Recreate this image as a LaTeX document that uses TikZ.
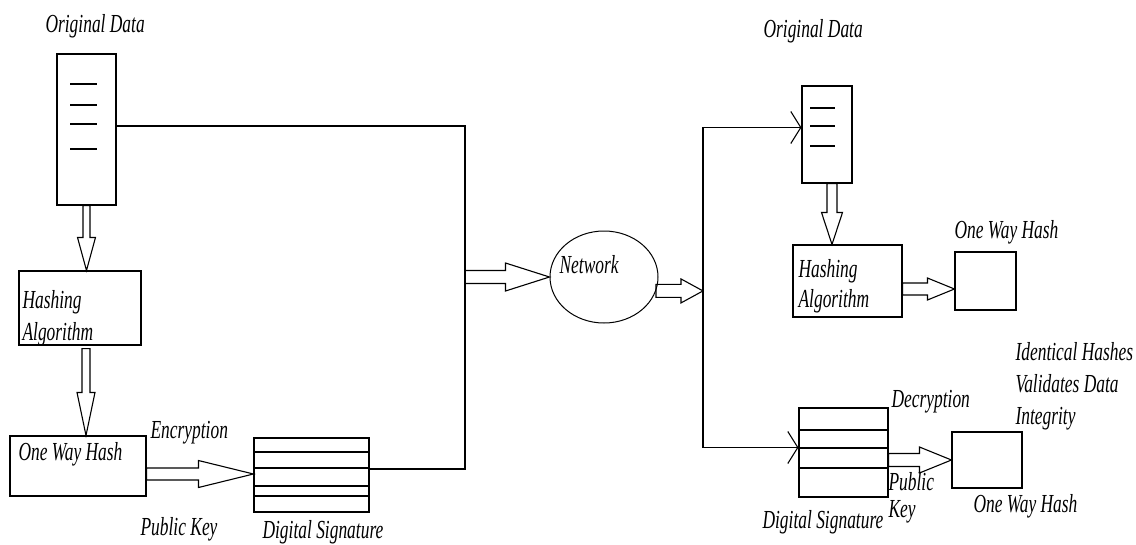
\documentclass[tikz,border=0pt]{standalone}
\usepackage{fontspec}
\setmainfont{Liberation Serif}[FakeStretch=0.67]
\usetikzlibrary{calc, arrows.meta, shapes.geometric}

\tikzset{
  box/.style={draw, line width=1.1pt, inner sep=0pt},
  lbl/.style={font=\fontsize{26}{32}\selectfont\itshape, inner sep=0pt, align=left},
  fat/.style={draw, line width=1.1pt, line join=miter},
  barb/.style={-{Straight Barb[length=10pt, width=32pt]}},
}

% block arrow: from, to, shaft half width, head half width, head length
\newcommand{\fatarrow}[5]{%
  \coordinate (fa-h) at ($(#2)!#5!(#1)$);
  \draw[fat]
    ($(#1)!#3!90:(#2)$) -- ($(fa-h)!#3!90:(#2)$) -- ($(fa-h)!#4!90:(#2)$)
    -- (#2) -- ($(fa-h)!#4!-90:(#2)$) -- ($(fa-h)!#3!-90:(#2)$)
    -- ($(#1)!#3!-90:(#2)$) -- cycle;
}

\begin{document}
\begin{tikzpicture}[x=1pt, y=-1pt, line width=1.1pt]
  \useasboundingbox (0,0) rectangle (1136,544);

  % sender side
  \node[box, minimum width=59pt, minimum height=151pt] (ldata) at (86.5,129.5) {};
  \foreach \y in {84,105,124,149}
    \draw (70,\y) -- (97,\y);
  \node[box, minimum width=122pt, minimum height=74pt] (lhash) at (80,308) {};
  \node[box, minimum width=136pt, minimum height=60pt] (lohash) at (78,466) {};
  \node[box, minimum width=115pt, minimum height=74pt] (lsig) at (311.5,475) {};
  \foreach \y in {452,468,486,496}
    \draw (lsig.west |- 0,\y) -- (lsig.east |- 0,\y);

  \node[lbl, anchor=base west] (ldatatxt) at (45,32) {Original Data};
  \node[lbl, anchor=north west] (lhashtxt) at (22,290) {Hashing\\Algorithm};
  \node[lbl, anchor=base west] (lohashtxt) at (18,460) {One Way Hash};
  \node[lbl, anchor=base west] (enctxt) at (150,438) {Encryption};
  \node[lbl, anchor=base west] (lkeytxt) at (140,535) {Public Key};
  \node[lbl, anchor=base west] (lsigtxt) at (262,538) {Digital Signature};

  % network
  \node[draw, ellipse, line width=1pt, inner sep=0pt,
        minimum width=108pt, minimum height=92pt] (net) at (604,277) {};
  \node[lbl, anchor=base west] (nettxt) at (559,273) {Network};

  \coordinate (lbus) at (465,469);
  \draw ([yshift=3.5pt]ldata.east) -| (lbus) -- ([yshift=6pt]lsig.east);

  % receiver side
  \node[box, minimum width=50pt, minimum height=97pt] (rdata) at (827,134.5) {};
  \foreach \y in {108,126,146}
    \draw (810,\y) -- (835,\y);
  \node[box, minimum width=109pt, minimum height=72pt] (rhash) at (847.5,281) {};
  \node[box, minimum width=61pt, minimum height=58pt] (rohash) at (985.5,281) {};
  \node[box, minimum width=89pt, minimum height=89pt] (rsig) at (843.5,452.5) {};
  \foreach \y in {430,448,468}
    \draw (rsig.west |- 0,\y) -- (rsig.east |- 0,\y);
  \node[box, minimum width=70pt, minimum height=56pt] (rcheck) at (987,460) {};

  \node[lbl, anchor=base west] (rdatatxt) at (763,37) {Original Data};
  \node[lbl, anchor=north west] (rhashtxt) at (798,259) {Hashing\\[-2pt]Algorithm};
  \node[lbl, anchor=base west] (rohashtxt) at (954,238) {One Way Hash};
  \node[lbl, anchor=north west] (resulttxt) at (1015,342)
    {Identical Hashes\\Validates Data\\Integrity};
  \node[lbl, anchor=base west] (dectxt) at (891,407) {Decryption};
  \node[lbl, anchor=north west] (rkeytxt) at (888,472) {Public\\[-5pt]Key};
  \node[lbl, anchor=base west] (rchecktxt) at (973,512) {One Way Hash};
  \node[lbl, anchor=base west] (rsigtxt) at (762,528) {Digital Signature};

  \coordinate (rbus) at (703,290);
  \draw[barb] (rbus) |- ([yshift=7pt]rdata.west);
  \draw[barb] (rbus) |- ([yshift=5pt]rsig.west);

  % block arrows
  \coordinate (a1) at (ldata.south);
  \coordinate (b1) at (ldata.south |- lhash.north);
  \fatarrow{a1}{b1}{3.5pt}{9pt}{33pt}
  \coordinate (a2) at ([xshift=6pt, yshift=-3pt]lhash.south);
  \coordinate (b2) at (a2 |- lohash.north);
  \fatarrow{a2}{b2}{4pt}{9pt}{43pt}
  \coordinate (a3) at ([yshift=-8pt]lohash.east);
  \coordinate (b3) at (a3 -| lsig.west);
  \fatarrow{a3}{b3}{6pt}{13.5pt}{55pt}
  \coordinate (a4) at (lbus |- net.west);
  \fatarrow{a4}{net.west}{6.5pt}{14pt}{44pt}
  \coordinate (a5) at (net.-15);
  \coordinate (b5) at (a5 -| rbus);
  \fatarrow{a5}{b5}{6.5pt}{12pt}{22pt}
  \coordinate (a6) at ([xshift=5pt]rdata.south);
  \coordinate (b6) at (a6 |- rhash.north);
  \fatarrow{a6}{b6}{5pt}{10.5pt}{32pt}
  \coordinate (a7) at ([yshift=-8pt]rhash.east);
  \coordinate (b7) at (a7 -| rohash.west);
  \fatarrow{a7}{b7}{6pt}{11pt}{27pt}
  \coordinate (a8) at (rsig.east |- rcheck.west);
  \fatarrow{a8}{rcheck.west}{6.5pt}{13pt}{32pt}
\end{tikzpicture}
\end{document}
